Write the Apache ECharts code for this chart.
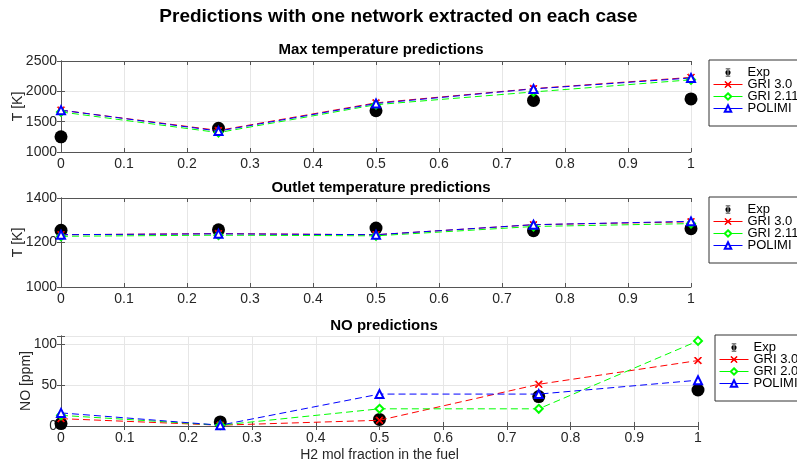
<!DOCTYPE html>
<html>
<head>
<meta charset="utf-8">
<script src="https://cdn.jsdelivr.net/npm/echarts@6/dist/echarts.min.js"></script>
<style>
html,body{margin:0;padding:0;background:#fff;}
#chart{width:797px;height:467px;}
</style>
</head>
<body>
<div id="chart"></div>
<script>
var xVals = [0, 0.25, 0.5, 0.75, 1];

var maxExp = [1250, 1390, 1680, 1850, 1875];
var maxGri30 = [1690, 1355, 1810, 2045, 2230];
var maxGri211 = [1660, 1320, 1780, 1990, 2190];
var maxPolimi = [1690, 1345, 1800, 2040, 2220];

var outExp = [1255, 1257, 1265, 1253, 1262];
var outGri30 = [1235, 1240, 1235, 1280, 1293];
var outGri211 = [1228, 1233, 1230, 1272, 1285];
var outPolimi = [1235, 1239, 1235, 1280, 1295];

var noExp = [3, 5, 8, 36, 44];
var noGri30 = [9, 1, 7, 51, 80];
var noGri20 = [13, 1, 21, 21, 104];
var noPolimi = [16, 1, 39, 39, 56];

var chart = echarts.init(document.getElementById('chart'));

var fontFam = '"Liberation Sans", Arial, sans-serif';
var txtColor = '#262626';
var crossIcon = 'path://M1,0 L5,4 L9,0 L10,1 L6,5 L10,9 L9,10 L5,6 L1,10 L0,9 L4,5 L0,1 Z';
var expIcon = 'path://M3,0h8v1.4h-8z M6.4,0h1.2v14h-1.2z M3,12.6h8v1.4h-8z M2.5,7a4.5,4.5 0 1,0 9,0a4.5,4.5 0 1,0 -9,0z';

function pairs(arr) {
	return xVals.map(function (x, i) { return [x, arr[i]]; });
}

function xAxisFor(idx, showName) {
	return [{
		gridIndex: idx,
		type: 'value',
		min: 0,
		max: 1,
		interval: 0.1,
		axisLine: {show: true, lineStyle: {color: '#555', width: 1}},
		axisTick: {show: true, inside: true, length: 4, lineStyle: {color: '#555'}},
		splitLine: {show: true, lineStyle: {color: '#e6e6e6', width: 1}},
		axisLabel: {color: txtColor, fontSize: 14, fontFamily: fontFam, margin: 5},
		name: showName ? 'H2 mol fraction in the fuel' : '',
		nameLocation: 'middle',
		nameGap: 22,
		nameMoveOverlap: false,
		nameTextStyle: {color: txtColor, fontSize: 14, fontFamily: fontFam}
	}, {
		gridIndex: idx,
		type: 'value',
		position: 'top',
		min: 0,
		max: 1,
		interval: 0.1,
		axisLine: {show: true, lineStyle: {color: '#555', width: 1}},
		axisTick: {show: true, inside: true, length: 4, lineStyle: {color: '#555'}},
		splitLine: {show: false},
		axisLabel: {show: false}
	}];
}

function yAxisFor(idx, min, max, interval, name, gap) {
	return [{
		gridIndex: idx,
		type: 'value',
		min: min,
		max: max,
		interval: interval,
		axisLine: {show: true, lineStyle: {color: '#555', width: 1}},
		axisTick: {show: true, inside: true, length: 4, lineStyle: {color: '#555'}},
		splitLine: {show: true, lineStyle: {color: '#e6e6e6', width: 1}},
		axisLabel: {
			color: txtColor, fontSize: 14, fontFamily: fontFam, margin: 4,
			formatter: function (v) { return (v % interval === 0) ? String(v) : ''; }
		},
		name: name,
		nameLocation: 'middle',
		nameRotate: 90,
		nameGap: gap,
		nameMoveOverlap: false,
		nameTextStyle: {color: txtColor, fontSize: 14, fontFamily: fontFam}
	}, {
		gridIndex: idx,
		type: 'value',
		position: 'right',
		min: min,
		max: max,
		interval: interval,
		axisLine: {show: true, lineStyle: {color: '#555', width: 1}},
		axisTick: {show: true, inside: true, length: 4, lineStyle: {color: '#555'}},
		splitLine: {show: false},
		axisLabel: {show: false}
	}];
}

function panelSeries(idx, exp, gri30, gri2, polimi, gri2Name) {
	var ax = idx * 2;
	function dashed(name, data, color, symbol, size) {
		return {
			name: name,
			type: 'line',
			xAxisIndex: ax,
			yAxisIndex: ax,
			data: pairs(data),
			symbol: symbol,
			symbolSize: size,
			itemStyle: {color: color, borderColor: color, borderWidth: 1},
			lineStyle: {color: color, width: 1, type: [7, 4]},
			z: 3
		};
	}
	return [{
		name: 'Exp',
		type: 'scatter',
		xAxisIndex: ax,
		yAxisIndex: ax,
		data: pairs(exp),
		symbol: 'circle',
		symbolSize: 13,
		itemStyle: {color: '#000', opacity: 1},
		z: 2
	},
	dashed('GRI 3.0', gri30, '#ff0000', crossIcon, 7),
	dashed(gri2Name, gri2, '#00ff00', 'emptyDiamond', 8),
	dashed('POLIMI', polimi, '#0000ff', 'emptyTriangle', 8)];
}

function legendFor(top, left, gri2Name) {
	return {
		orient: 'vertical',
		left: left,
		top: top,
		itemWidth: 29,
		itemHeight: 8,
		itemGap: -1,
		padding: [6, 30, 11, 4],
		borderColor: '#333',
		borderWidth: 1,
		lineStyle: {type: 'solid', width: 1},
		itemStyle: {borderWidth: 1},
		textStyle: {color: '#000', fontSize: 13, fontFamily: fontFam},
		data: [
			{name: 'Exp', icon: expIcon},
			{name: 'GRI 3.0'},
			{name: gri2Name},
			{name: 'POLIMI'}
		]
	};
}

var option = {
	backgroundColor: '#fff',
	animation: false,
	title: [{
		text: 'Predictions with one network extracted on each case',
		left: 'center',
		top: 2,
		textStyle: {color: '#000', fontSize: 19, fontWeight: 'bold', fontFamily: fontFam}
	}, {
		text: 'Max temperature predictions',
		left: 376, top: 37,
		textAlign: 'center',
		textStyle: {color: '#000', fontSize: 15, fontWeight: 'bold', fontFamily: fontFam}
	}, {
		text: 'Outlet temperature predictions',
		left: 376, top: 175,
		textAlign: 'center',
		textStyle: {color: '#000', fontSize: 15, fontWeight: 'bold', fontFamily: fontFam}
	}, {
		text: 'NO predictions',
		left: 379, top: 313,
		textAlign: 'center',
		textStyle: {color: '#000', fontSize: 15, fontWeight: 'bold', fontFamily: fontFam}
	}],
	grid: [
		{left: 61, width: 630, top: 61, height: 91, outerBoundsMode: 'none'},
		{left: 61, width: 630, top: 198, height: 89, outerBoundsMode: 'none'},
		{left: 61, width: 637, top: 336, height: 90, outerBoundsMode: 'none'}
	],
	legend: [
		legendFor(60, 709, 'GRI 2.11'),
		legendFor(197, 709, 'GRI 2.11'),
		legendFor(335, 715, 'GRI 2.0')
	],
	xAxis: [].concat(xAxisFor(0, false), xAxisFor(1, false), xAxisFor(2, true)),
	yAxis: [].concat(
		yAxisFor(0, 1000, 2500, 500, 'T [K]', 36),
		yAxisFor(1, 1000, 1400, 200, 'T [K]', 36),
		yAxisFor(2, 0, 110, 50, 'NO [ppm]', 28)
	),
	series: [].concat(
		panelSeries(0, maxExp, maxGri30, maxGri211, maxPolimi, 'GRI 2.11'),
		panelSeries(1, outExp, outGri30, outGri211, outPolimi, 'GRI 2.11'),
		panelSeries(2, noExp, noGri30, noGri20, noPolimi, 'GRI 2.0')
	)
};

chart.setOption(option);
</script>
</body>
</html>
